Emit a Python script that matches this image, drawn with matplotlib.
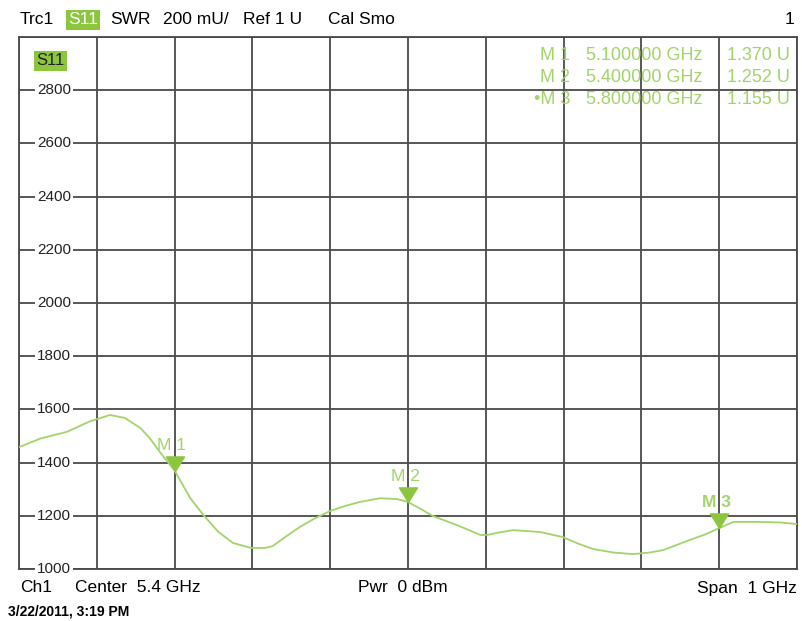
import numpy as np
import matplotlib.pyplot as plt
from matplotlib.path import Path
from matplotlib.transforms import blended_transform_factory

plt.rcParams['font.family'] = ['Liberation Sans', 'DejaVu Sans']

# S11 trace (GHz, mU)
freq = [4.900, 4.927, 4.962, 4.991, 5.017, 5.036, 5.056, 5.068, 5.081, 5.100,
        5.120, 5.137, 5.156, 5.175, 5.197, 5.216, 5.226, 5.242, 5.261, 5.280,
        5.300, 5.319, 5.338, 5.364, 5.386, 5.400, 5.415, 5.432, 5.463, 5.493,
        5.502, 5.518, 5.535, 5.570, 5.599, 5.619, 5.638, 5.664, 5.689, 5.711,
        5.728, 5.762, 5.782, 5.801, 5.818, 5.849, 5.878, 5.900]
swr = [1458, 1490, 1516, 1555, 1579, 1568, 1530, 1492, 1440, 1370,
       1267, 1203, 1140, 1098, 1080, 1079, 1086, 1120, 1158, 1190,
       1218, 1237, 1252, 1266, 1263, 1252, 1228, 1199, 1165, 1128,
       1128, 1138, 1146, 1139, 1120, 1095, 1075, 1062, 1056, 1062,
       1071, 1109, 1130, 1155, 1177, 1177, 1175, 1169]

marker_names = ['M 1', 'M 2', 'M 3']
marker_freq = [5.1, 5.4, 5.8]
marker_swr = [1370, 1252, 1155]
marker_readout = ['1.370 U', '1.252 U', '1.155 U']

x_grid = np.round(np.arange(4.9, 5.91, 0.1), 2)
y_ticks = [1000, 1200, 1400, 1600, 1800, 2000, 2200, 2400, 2600, 2800]

W, H = 803, 621
trace_col = '#a3d36a'
mark_col = '#8cc63f'
grid_col = '#4a4a4a'

fig = plt.figure(figsize=(W / 100, H / 100), dpi=100)
ax = fig.add_axes([19 / W, 1 - 569 / H, 778 / W, 532 / H])

ax.set_xlim(4.9, 5.9)
ax.set_ylim(1000, 3000)
ax.set_xticks(x_grid)
ax.set_yticks(np.arange(1000, 3001, 200))
ax.tick_params(length=0, labelbottom=False, labelleft=False)
ax.grid(True, color=grid_col, lw=1.3)
for s in ax.spines.values():
    s.set_color(grid_col)
    s.set_linewidth(1.3)

# y labels sit inside the grid with white behind them
tr = blended_transform_factory(ax.transAxes, ax.transData)
for v in y_ticks:
    ax.text(0.045, v, str(v), transform=tr, ha='center', va='center',
            fontsize=11, color='#222222',
            bbox=dict(boxstyle='square,pad=0.15', fc='white', ec='none'))

ax.plot(freq, swr, color=trace_col, lw=1.3, zorder=3)

# markers: triangle with tip on the trace
tri = Path([(0, 0), (-0.62, 1), (0.62, 1), (0, 0)],
           [Path.MOVETO, Path.LINETO, Path.LINETO, Path.CLOSEPOLY])
for i, (n, f, v) in enumerate(zip(marker_names, marker_freq, marker_swr)):
    ax.plot([f], [v], marker=tri, ms=21, color=mark_col, ls='none', zorder=4)
    ax.annotate(n, (f, v), xytext=(-2, 13), textcoords='offset points',
                ha='center', va='bottom', fontsize=12.5, color=trace_col,
                fontweight='bold' if i == 2 else 'normal', zorder=5)

# marker readout table, top right
for i, (n, f, r) in enumerate(zip(marker_names, marker_freq, marker_readout)):
    y = 1 - (56 + i * 21.5) / H
    fig.text(570 / W, y, ('\u2022' if i == 2 else '') + n, ha='right',
             va='center', fontsize=13, color=trace_col)
    fig.text(703 / W, y, '%.6f GHz' % f, ha='right', va='center',
             fontsize=13, color=trace_col)
    fig.text(790 / W, y, r, ha='right', va='center', fontsize=13,
             color=trace_col)

ax.text(0.022, 0.955, 'S11', transform=ax.transAxes, ha='left', va='center',
        fontsize=12, color='#222222',
        bbox=dict(boxstyle='square,pad=0.15', fc=mark_col, ec='none'))

# little green corner flag bottom right
ax.fill([1, 1, 0.986], [0, 0.02, 0], color=mark_col, clip_on=False, zorder=6)

# header line
hy = 1 - 20 / H
fig.text(20 / W, hy, 'Trc1', va='center', fontsize=12.5)
fig.text(68 / W, hy, 'S11', va='center', fontsize=12.5, color='white',
         bbox=dict(boxstyle='square,pad=0.12', fc=mark_col, ec='none'))
fig.text(110 / W, hy, 'SWR', va='center', fontsize=12.5)
fig.text(163 / W, hy, '200 mU/', va='center', fontsize=12.5)
fig.text(243 / W, hy, 'Ref 1 U', va='center', fontsize=12.5)
fig.text(328 / W, hy, 'Cal Smo', va='center', fontsize=12.5)
fig.text(794 / W, hy, '1', va='center', ha='right', fontsize=12.5)

# footer
fy = 1 - 588 / H
fig.text(20 / W, fy, 'Ch1', va='center', fontsize=12.5)
fig.text(75 / W, fy, 'Center  5.4 GHz', va='center', fontsize=12.5)
fig.text(358 / W, fy, 'Pwr  0 dBm', va='center', fontsize=12.5)
fig.text(797 / W, fy, 'Span  1 GHz', va='center', ha='right', fontsize=12.5)
fig.text(8 / W, 1 - 611 / H, '3/22/2011, 3:19 PM', va='center',
         fontsize=10, fontweight='bold')

fig.savefig('out.png', dpi=100)
